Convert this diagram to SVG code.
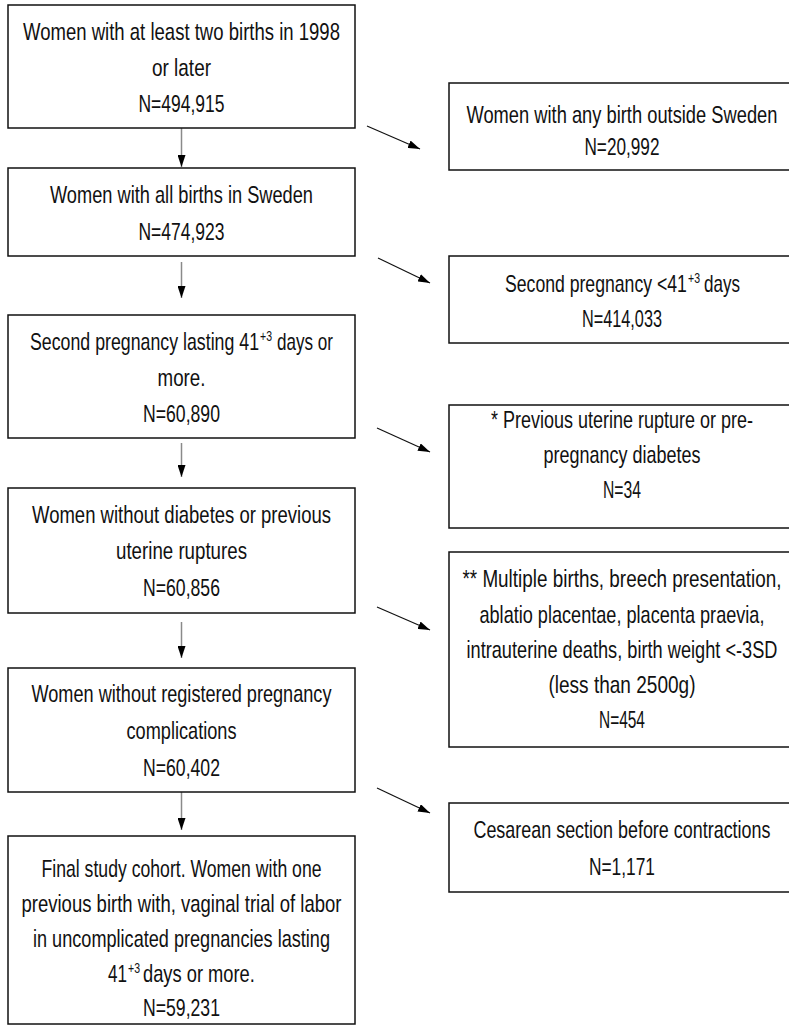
<svg xmlns="http://www.w3.org/2000/svg" width="789" height="1028" viewBox="0 0 789 1028">
<style>
.box{fill:#fff;stroke:#111;stroke-width:1.5}
.t{font-family:"Liberation Sans",Arial,sans-serif;font-size:24px;text-anchor:middle;fill:#111}
.s{text-anchor:start}
.sup{font-size:14px}
.v{stroke:#8a8a8a;stroke-width:1.5;fill:none}
.d{stroke:#111;stroke-width:1.2;fill:none}
</style>
<defs>
<marker id="ah" markerUnits="userSpaceOnUse" markerWidth="12" markerHeight="8" refX="12" refY="4" orient="auto">
<path d="M0,0 L12,4 L0,8 z" fill="#000"/>
</marker>
</defs>
<rect width="789" height="1028" fill="#fff"/>
<g id="connectors">
<line class="v" x1="181.5" y1="128" x2="181.5" y2="167" marker-end="url(#ah)"/>
<line class="v" x1="181.5" y1="262" x2="181.5" y2="298" marker-end="url(#ah)"/>
<line class="v" x1="181.5" y1="443" x2="181.5" y2="477" marker-end="url(#ah)"/>
<line class="v" x1="181.5" y1="622" x2="181.5" y2="658" marker-end="url(#ah)"/>
<line class="v" x1="181.5" y1="792" x2="181.5" y2="830" marker-end="url(#ah)"/>
<line class="d" x1="367" y1="126" x2="420" y2="149" marker-end="url(#ah)"/>
<line class="d" x1="378" y1="258" x2="430" y2="283" marker-end="url(#ah)"/>
<line class="d" x1="377" y1="428" x2="430" y2="452" marker-end="url(#ah)"/>
<line class="d" x1="377" y1="607" x2="430" y2="630" marker-end="url(#ah)"/>
<line class="d" x1="377" y1="788" x2="430" y2="813" marker-end="url(#ah)"/>
</g>
<g id="n1">
<rect class="box" x="8" y="5" width="347" height="123"/>
<g transform="scale(0.78,1)">
<text class="t" x="232.7" y="40" textLength="406.4" lengthAdjust="spacingAndGlyphs">Women with at least two births in 1998</text>
<text class="t" x="232.7" y="76" textLength="75.6" lengthAdjust="spacingAndGlyphs">or later</text>
<text class="t" x="232.7" y="112" textLength="110.3" lengthAdjust="spacingAndGlyphs">N=494,915</text>
</g>
</g>
<g id="n2">
<rect class="box" x="8" y="168" width="347" height="88"/>
<g transform="scale(0.78,1)">
<text class="t" x="232.7" y="203" textLength="337.2" lengthAdjust="spacingAndGlyphs">Women with all births in Sweden</text>
<text class="t" x="232.7" y="240" textLength="110.3" lengthAdjust="spacingAndGlyphs">N=474,923</text>
</g>
</g>
<g id="n3">
<rect class="box" x="8" y="315" width="347" height="123"/>
<text class="t s" transform="translate(30,350) scale(0.740,1)">Second pregnancy lasting 41</text>
<text class="t s sup" transform="translate(260,341) scale(0.752,1)">+3</text>
<text class="t s" transform="translate(277,350) scale(0.712,1)">days or</text>
<g transform="scale(0.78,1)">
<text class="t" x="232.7" y="386" textLength="61.5" lengthAdjust="spacingAndGlyphs">more.</text>
<text class="t" x="232.7" y="422" textLength="98.7" lengthAdjust="spacingAndGlyphs">N=60,890</text>
</g>
</g>
<g id="n4">
<rect class="box" x="8" y="488" width="347" height="125"/>
<g transform="scale(0.78,1)">
<text class="t" x="232.7" y="523" textLength="383.3" lengthAdjust="spacingAndGlyphs">Women without diabetes or previous</text>
<text class="t" x="232.7" y="559" textLength="167.9" lengthAdjust="spacingAndGlyphs">uterine ruptures</text>
<text class="t" x="232.7" y="596" textLength="98.7" lengthAdjust="spacingAndGlyphs">N=60,856</text>
</g>
</g>
<g id="n5">
<rect class="box" x="8" y="668" width="347" height="124"/>
<g transform="scale(0.78,1)">
<text class="t" x="232.7" y="702" textLength="384.6" lengthAdjust="spacingAndGlyphs">Women without registered pregnancy</text>
<text class="t" x="232.7" y="739" textLength="141" lengthAdjust="spacingAndGlyphs">complications</text>
<text class="t" x="232.7" y="776" textLength="98.7" lengthAdjust="spacingAndGlyphs">N=60,402</text>
</g>
</g>
<g id="n6">
<rect class="box" x="8" y="836" width="347" height="188"/>
<g transform="scale(0.78,1)">
<text class="t" x="232.7" y="877" textLength="359" lengthAdjust="spacingAndGlyphs">Final study cohort. Women with one</text>
<text class="t" x="232.7" y="912" textLength="410.3" lengthAdjust="spacingAndGlyphs">previous birth with, vaginal trial of labor</text>
<text class="t" x="232.7" y="947" textLength="380.8" lengthAdjust="spacingAndGlyphs">in uncomplicated pregnancies lasting</text>
<text class="t" x="232.7" y="1016" textLength="98.7" lengthAdjust="spacingAndGlyphs">N=59,231</text>
</g>
<text class="t s" transform="translate(108,982) scale(0.712,1)">41</text>
<text class="t s sup" transform="translate(128,973) scale(0.752,1)">+3</text>
<text class="t s" transform="translate(143,982) scale(0.763,1)">days or more.</text>
</g>
<g id="r1">
<rect class="box" x="449" y="83" width="342" height="87"/>
<g transform="scale(0.78,1)">
<text class="t" x="797.4" y="123" textLength="398.7" lengthAdjust="spacingAndGlyphs">Women with any birth outside Sweden</text>
<text class="t" x="797.4" y="155" textLength="96.2" lengthAdjust="spacingAndGlyphs">N=20,992</text>
</g>
</g>
<g id="r2">
<rect class="box" x="449" y="256" width="342" height="87"/>
<text class="t s" transform="translate(505,292) scale(0.735,1)">Second pregnancy &lt;41</text>
<text class="t s sup" transform="translate(688,283) scale(0.752,1)">+3</text>
<text class="t s" transform="translate(704,292) scale(0.710,1)">days</text>
<g transform="scale(0.78,1)">
<text class="t" x="797.4" y="327" textLength="102.6" lengthAdjust="spacingAndGlyphs">N=414,033</text>
</g>
</g>
<g id="r3">
<rect class="box" x="449" y="405" width="342" height="123"/>
<g transform="scale(0.78,1)">
<text class="t" x="797.4" y="428" textLength="335.9" lengthAdjust="spacingAndGlyphs">* Previous uterine rupture or pre-</text>
<text class="t" x="797.4" y="463" textLength="201.3" lengthAdjust="spacingAndGlyphs">pregnancy diabetes</text>
<text class="t" x="797.4" y="498" textLength="48.7" lengthAdjust="spacingAndGlyphs">N=34</text>
</g>
</g>
<g id="r4">
<rect class="box" x="449" y="552" width="342" height="195"/>
<g transform="scale(0.78,1)">
<text class="t" x="797.4" y="587" textLength="409" lengthAdjust="spacingAndGlyphs">** Multiple births, breech presentation,</text>
<text class="t" x="797.4" y="623" textLength="365.4" lengthAdjust="spacingAndGlyphs">ablatio placentae, placenta praevia,</text>
<text class="t" x="797.4" y="658" textLength="398.7" lengthAdjust="spacingAndGlyphs">intrauterine deaths, birth weight &lt;-3SD</text>
<text class="t" x="797.4" y="693" textLength="188.5" lengthAdjust="spacingAndGlyphs">(less than 2500g)</text>
<text class="t" x="797.4" y="728" textLength="59" lengthAdjust="spacingAndGlyphs">N=454</text>
</g>
</g>
<g id="r5">
<rect class="box" x="449" y="803" width="342" height="89"/>
<g transform="scale(0.78,1)">
<text class="t" x="797.4" y="838" textLength="380.8" lengthAdjust="spacingAndGlyphs">Cesarean section before contractions</text>
<text class="t" x="797.4" y="875" textLength="84.6" lengthAdjust="spacingAndGlyphs">N=1,171</text>
</g>
</g>
</svg>
